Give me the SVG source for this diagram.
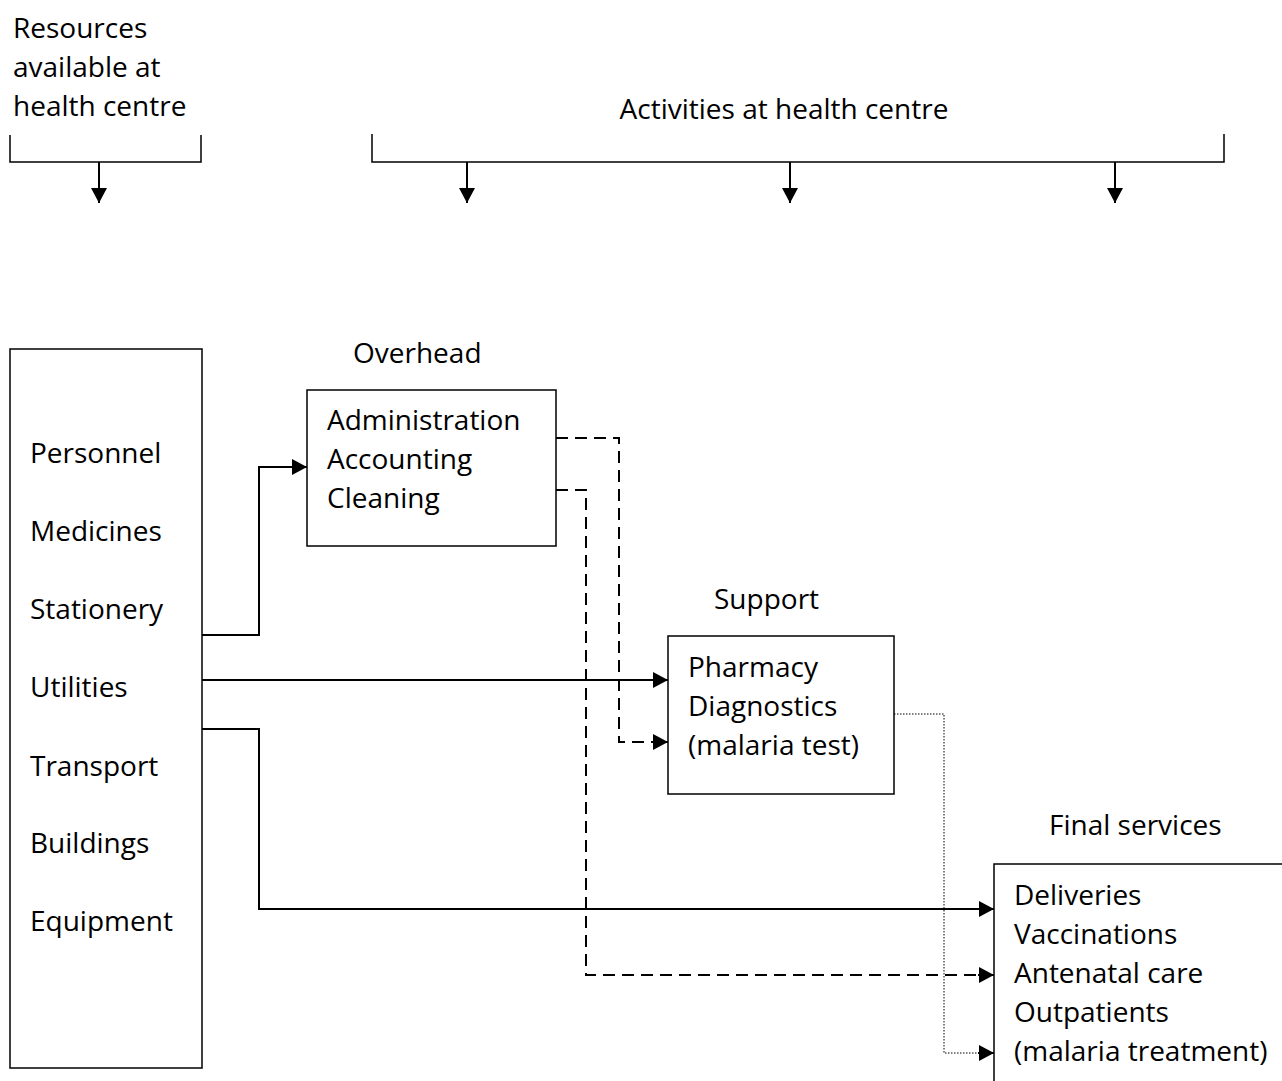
<svg xmlns="http://www.w3.org/2000/svg" width="1282" height="1081" viewBox="0 0 1282 1081">
<defs>
<marker id="ah" viewBox="0 0 15 16" refX="15" refY="8" markerWidth="15" markerHeight="16" markerUnits="userSpaceOnUse" orient="auto">
<path d="M0,0 L15,8 L0,16 Z" fill="#000"/>
</marker>
<style>
text{font-family:"Open Sans","Liberation Sans",sans-serif;font-size:28px;fill:#000}
.box{fill:#fff;stroke:#000;stroke-width:1.5}
.ln{fill:none;stroke:#000;stroke-width:2}
.dash{fill:none;stroke:#000;stroke-width:2;stroke-dasharray:12,7}
.dot{fill:none;stroke:#000;stroke-width:1;stroke-dasharray:1.5,1.5}
.br{fill:none;stroke:#000;stroke-width:1.5}
</style>
</defs>
<rect width="1282" height="1081" fill="#fff"/>
<g id="header-resources">
<text x="13" y="38">Resources</text>
<text x="13" y="77">available at</text>
<text x="13" y="116">health centre</text>
<path class="br" d="M10,135 V162 H201 V135"/>
<path class="ln" d="M99,162 V203" marker-end="url(#ah)"/>
</g>
<g id="header-activities">
<text x="784" y="119" text-anchor="middle">Activities at health centre</text>
<path class="br" d="M372,134 V162 H1224 V134"/>
<path class="ln" d="M467,162 V203" marker-end="url(#ah)"/>
<path class="ln" d="M790,162 V203" marker-end="url(#ah)"/>
<path class="ln" d="M1115,162 V203" marker-end="url(#ah)"/>
</g>
<g id="resources">
<rect class="box" x="10" y="349" width="192" height="719"/>
<text x="30" y="463">Personnel</text>
<text x="30" y="541">Medicines</text>
<text x="30" y="619">Stationery</text>
<text x="30" y="697">Utilities</text>
<text x="30" y="776">Transport</text>
<text x="30" y="853">Buildings</text>
<text x="30" y="931">Equipment</text>
</g>
<g id="overhead">
<text x="353" y="363">Overhead</text>
<rect class="box" x="307" y="390" width="249" height="156"/>
<text x="327" y="430">Administration</text>
<text x="327" y="469">Accounting</text>
<text x="327" y="508">Cleaning</text>
</g>
<g id="support">
<text x="714" y="609">Support</text>
<rect class="box" x="668" y="636" width="226" height="158"/>
<text x="688" y="677">Pharmacy</text>
<text x="688" y="716">Diagnostics</text>
<text x="688" y="755">(malaria test)</text>
</g>
<g id="final">
<text x="1049" y="835">Final services</text>
<rect class="box" x="994" y="864" width="300" height="240"/>
<text x="1014" y="905">Deliveries</text>
<text x="1014" y="944">Vaccinations</text>
<text x="1014" y="983">Antenatal care</text>
<text x="1014" y="1022">Outpatients</text>
<text x="1014" y="1061">(malaria treatment)</text>
</g>
<g id="connectors">
<path class="ln" d="M202,635 H259 V467 H307" marker-end="url(#ah)"/>
<path class="ln" d="M202,680 H668" marker-end="url(#ah)"/>
<path class="ln" d="M202,729 H259 V909 H994" marker-end="url(#ah)"/>
<path class="dash" d="M556,438 H619 V742 H652"/>
<path class="ln" d="M652,742 H668" marker-end="url(#ah)"/>
<path class="dash" d="M556,490 H586 V975 H978"/>
<path class="ln" d="M978,975 H994" marker-end="url(#ah)"/>
<path class="dot" d="M894,714 H944 V1053 H978"/>
<path class="ln" d="M978,1053 H994" marker-end="url(#ah)"/>
</g>
</svg>
